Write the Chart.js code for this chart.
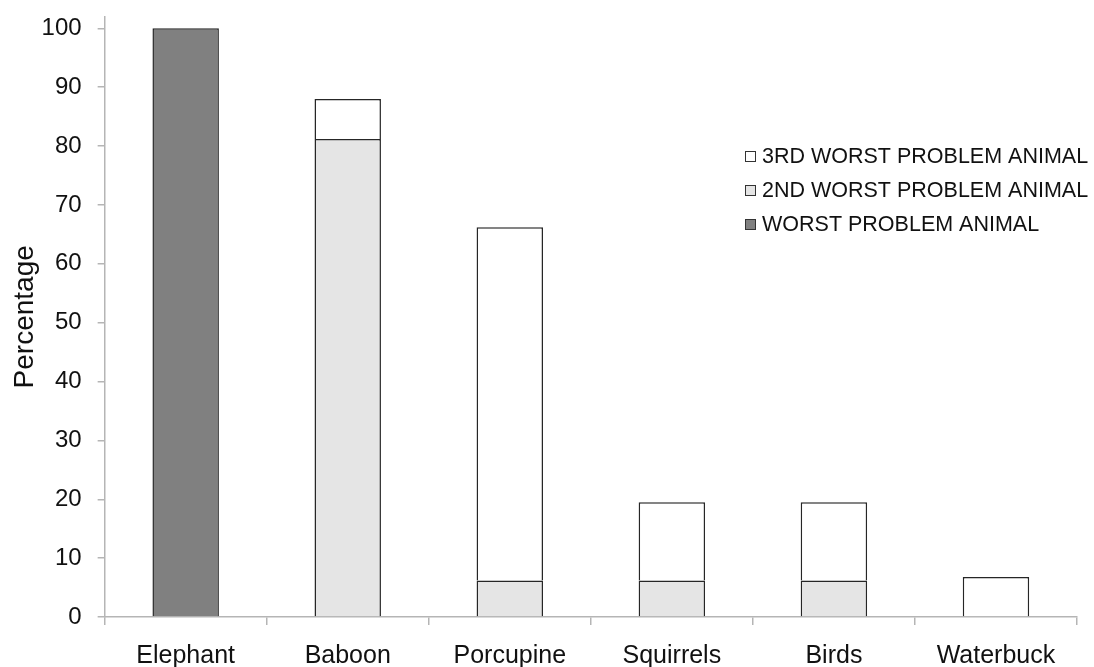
<!DOCTYPE html>
<html>
<head>
<meta charset="utf-8">
<script src="https://cdn.jsdelivr.net/npm/chart.js@4.4.1/dist/chart.umd.min.js"></script>
<style>
  html, body { margin: 0; padding: 0; background: #fff; }
  #wrap { width: 1094px; height: 667px; }
</style>
</head>
<body>
<div id="wrap"><canvas id="graphCanvas"></canvas></div>
<script>
var animals = ['Elephant', 'Baboon', 'Porcupine', 'Squirrels', 'Birds', 'Waterbuck'];
// percentage of respondents, stacked bottom to top
var worst = [100, null, null, null, null, null];
var second = [null, 81.2, 6.2, 6.2, 6.2, null];
var third = [null, 6.8, 60.0, 13.3, 13.3, 6.8];
var yTicks = [0, 10, 20, 30, 40, 50, 60, 70, 80, 90, 100];

var FONT = '"Liberation Sans", Arial, sans-serif';

// legend drawn inside the plot, top entry = top of the stack
var boxLegend = {
    id: 'boxLegend',
    afterDraw: function (chart, args, opts) {
        var ctx = chart.ctx;
        var sets = chart.data.datasets.slice().reverse();
        ctx.save();
        ctx.font = opts.size + 'px ' + FONT;
        ctx.textBaseline = 'middle';
        for (var i = 0; i < sets.length; i++) {
            var y = opts.y + i * opts.gap;
            ctx.fillStyle = sets[i].backgroundColor;
            ctx.strokeStyle = '#333';
            ctx.lineWidth = 1;
            ctx.fillRect(opts.x, y - 5, 10, 10);
            ctx.strokeRect(opts.x + 0.5, y - 4.5, 10, 10);
            ctx.fillStyle = '#111';
            ctx.fillText(sets[i].label, opts.x + 17, y + 1);
        }
        ctx.restore();
    }
};

var chartdata = {
    labels: animals,
    datasets: [
        {
            label: 'WORST PROBLEM ANIMAL',
            data: worst,
            backgroundColor: '#808080',
            borderColor: '#262626',
            borderWidth: 1.5,
            borderSkipped: 'bottom'
        },
        {
            label: '2ND WORST PROBLEM ANIMAL',
            data: second,
            backgroundColor: '#e5e5e5',
            borderColor: '#262626',
            borderWidth: 1.5,
            borderSkipped: 'bottom'
        },
        {
            label: '3RD WORST PROBLEM ANIMAL',
            data: third,
            backgroundColor: '#ffffff',
            borderColor: '#262626',
            borderWidth: 1.5,
            borderSkipped: 'bottom'
        }
    ]
};

new Chart(document.getElementById('graphCanvas'), {
    type: 'bar',
    data: chartdata,
    plugins: [boxLegend],
    options: {
        responsive: true,
        maintainAspectRatio: false,
        animation: false,
        layout: { padding: { top: 0, right: 17, bottom: -21, left: 0 } },
        datasets: { bar: { categoryPercentage: 1, barPercentage: 0.41 } },
        plugins: {
            legend: { display: false },
            tooltip: { enabled: false },
            boxLegend: { x: 745, y: 156, gap: 34, size: 21.5 }
        },
        scales: {
            x: {
                stacked: true,
                border: { color: '#b5b5b5', width: 1.5 },
                grid: { drawOnChartArea: false, color: '#b5b5b5', lineWidth: 1.5, tickLength: 8, offset: true },
                ticks: { color: '#111', padding: 19, font: { family: FONT, size: 25, lineHeight: 1 } }
            },
            y: {
                stacked: true,
                min: 0,
                max: 102,
                afterBuildTicks: function (axis) {
                    axis.ticks = yTicks.map(function (v) { return { value: v }; });
                },
                border: { color: '#b5b5b5', width: 1.5 },
                grid: { drawOnChartArea: false, color: '#b5b5b5', lineWidth: 1.5, tickLength: 7 },
                ticks: { color: '#111', padding: 16, font: { family: FONT, size: 24, lineHeight: 0.05 } },
                title: {
                    display: true,
                    text: 'Percentage',
                    color: '#111',
                    padding: { top: 8, bottom: -16 },
                    font: { family: FONT, size: 28 }
                }
            }
        }
    }
});
</script>
</body>
</html>
